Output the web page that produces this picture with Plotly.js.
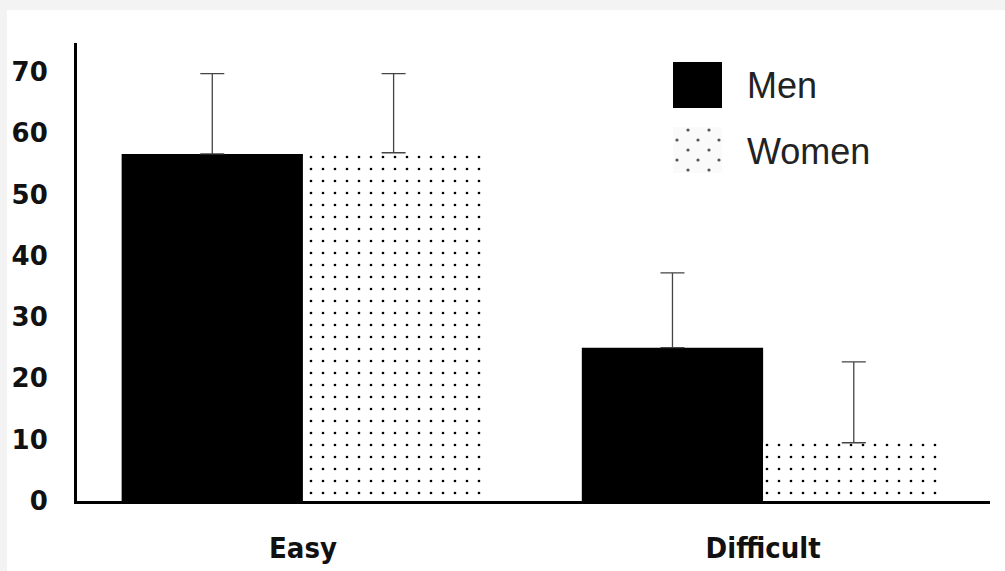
<!DOCTYPE html>
<html>
<head>
<meta charset="utf-8">
<script src="https://cdn.plot.ly/plotly-3.0.1.min.js"></script>
<style>
  html, body { margin: 0; padding: 0; background: #f3f3f3; width: 1005px; height: 571px; overflow: hidden; }
  #chart { position: absolute; left: 7px; top: 10px; width: 998px; height: 561px; background: #fff; }
</style>
</head>
<body>
<div id="chart"></div>
<script>
const categories = ['Easy', 'Difficult'];
const seriesNames = ['Men', 'Women'];
const menValues = [56.6, 25.0];
const menErrors = [13.1, 12.2];
const womenValues = [56.8, 9.5];
const womenErrors = [12.9, 13.2];
const yTickValues = [0, 10, 20, 30, 40, 50, 60, 70];

const errStyle = { color: '#444', thickness: 1.3, width: 12 };

const traces = [
  {
    type: 'bar', name: seriesNames[0], x: categories, y: menValues,
    marker: { color: '#000', line: { width: 0 } },
    error_y: Object.assign({ type: 'data', symmetric: false, array: menErrors, arrayminus: [0, 0] }, errStyle),
    hoverinfo: 'skip'
  },
  {
    type: 'bar', name: seriesNames[1], x: categories, y: womenValues,
    marker: {
      color: '#fff', line: { width: 0 },
      pattern: { shape: '.', fgcolor: '#000', bgcolor: '#fff', size: 12, solidity: 0.04, fillmode: 'replace' }
    },
    error_y: Object.assign({ type: 'data', symmetric: false, array: womenErrors, arrayminus: [0, 0] }, errStyle),
    hoverinfo: 'skip'
  }
];

// Legend pattern swatch (SVG)
let dots = '';
for (let r = 0; r < 5; r++) {
  for (let c = 0; c < 3; c++) {
    const cx = (r % 2 === 0 ? 15 : 4) + c * 21;
    const cy = 3 + r * 10;
    if (cx < 49) dots += `<circle cx="${cx}" cy="${cy}" r="1.6" fill="#555"/>`;
  }
}
const svgSwatch = `<svg xmlns="http://www.w3.org/2000/svg" width="49" height="46" viewBox="0 0 49 46"><rect width="49" height="46" fill="#fafafa"/>${dots}</svg>`;
const swatchURI = 'data:image/svg+xml;charset=utf-8,' + encodeURIComponent(svgSwatch);

// paper coordinate helpers (div: 998x561, margins l70 r15 t33 b70)
const W = 998, H = 561, ML = 70, MR = 15, MT = 33, MB = 70;
const pw = W - ML - MR, ph = H - MT - MB;
const px = x => (x - 7 - ML) / pw;          // page x -> paper x
const py = y => 1 - (y - 10 - MT) / ph;     // page y -> paper y

const layout = {
  width: W, height: H,
  margin: { l: ML, r: MR, t: MT, b: MB, pad: 0 },
  paper_bgcolor: '#fff', plot_bgcolor: '#fff',
  showlegend: false,
  barmode: 'group', bargap: 0.212, bargroupgap: 0,
  xaxis: {
    type: 'category', range: [-0.491, 1.493], fixedrange: true,
    showline: true, linecolor: '#000', linewidth: 3, showgrid: false, zeroline: false,
    ticks: 'outside', ticklen: 19, tickcolor: 'rgba(0,0,0,0)',
    tickfont: { family: 'DejaVu Sans Condensed, DejaVu Sans', size: 29, color: '#111', weight: 'bold' }
  },
  yaxis: {
    range: [0, 74.7], fixedrange: true, tickvals: yTickValues,
    showline: true, linecolor: '#000', linewidth: 3, showgrid: false, zeroline: false,
    ticks: 'outside', ticklen: 21, tickcolor: 'rgba(0,0,0,0)',
    tickfont: { family: 'DejaVu Sans', size: 26, color: '#111', weight: 'bold' }
  },
  shapes: [
    { type: 'rect', xref: 'paper', yref: 'paper', x0: px(673), x1: px(722), y0: py(108), y1: py(62),
      fillcolor: '#000', line: { width: 0 } }
  ],
  images: [
    { source: swatchURI, xref: 'paper', yref: 'paper', x: px(673), y: py(127),
      sizex: 49 / pw, sizey: 46 / ph, xanchor: 'left', yanchor: 'top', sizing: 'stretch', layer: 'above' }
  ],
  annotations: [
    { text: seriesNames[0], xref: 'paper', yref: 'paper', x: px(745), y: py(85), xanchor: 'left', yanchor: 'middle',
      showarrow: false, font: { family: 'Liberation Sans, Arial', size: 36, color: '#222' } },
    { text: seriesNames[1], xref: 'paper', yref: 'paper', x: px(745), y: py(151), xanchor: 'left', yanchor: 'middle',
      showarrow: false, font: { family: 'Liberation Sans, Arial', size: 36, color: '#222' } }
  ]
};

Plotly.newPlot('chart', traces, layout, { displayModeBar: false, staticPlot: true });
</script>
</body>
</html>
